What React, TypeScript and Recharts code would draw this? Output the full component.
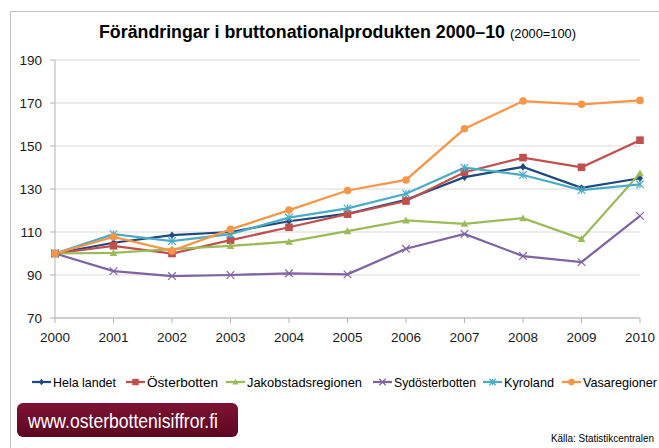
import React from "react";
import { LineChart, Line, XAxis, YAxis, CartesianGrid } from "recharts";

const years = ["2000", "2001", "2002", "2003", "2004", "2005", "2006", "2007", "2008", "2009", "2010"];
const helaLandet = [100, 105, 108.5, 110, 115, 118.5, 125, 135.5, 140.3, 130.5, 135];
const osterbotten = [100, 103.6, 100, 106.2, 112.2, 118.3, 124.4, 137.8, 144.6, 140.1, 152.7];
const jakobstad = [100, 100.3, 102, 103.5, 105.5, 110.4, 115.4, 113.8, 116.4, 106.8, 137.3];
const sydosterbotten = [100, 91.8, 89.5, 90, 90.8, 90.3, 102.2, 109.1, 98.8, 96, 117.5];
const kyroland = [100, 109, 105.8, 109, 116.7, 121, 127.8, 139.9, 136.5, 129.5, 132.2];
const vasaregioner = [100, 107.7, 101.2, 111.2, 120.2, 129.3, 134.2, 158, 170.9, 169.4, 171.2];
const yTicks = [70, 90, 110, 130, 150, 170, 190];

type Shape = "diamond" | "square" | "triangle" | "x" | "star" | "circle";

const series: { key: string; name: string; color: string; shape: Shape; values: number[] }[] = [
  { key: "hela", name: "Hela landet", color: "#1F497D", shape: "diamond", values: helaLandet },
  { key: "oster", name: "Österbotten", color: "#C0504D", shape: "square", values: osterbotten },
  { key: "jakob", name: "Jakobstadsregionen", color: "#9BBB59", shape: "triangle", values: jakobstad },
  { key: "syd", name: "Sydösterbotten", color: "#8064A2", shape: "x", values: sydosterbotten },
  { key: "kyro", name: "Kyroland", color: "#4BACC6", shape: "star", values: kyroland },
  { key: "vasa", name: "Vasaregioner", color: "#F79646", shape: "circle", values: vasaregioner },
];

const rows = years.map((year, i) => {
  const row: Record<string, string | number> = { year };
  series.forEach((s) => {
    row[s.key] = s.values[i];
  });
  return row;
});

function Marker({ cx, cy, shape, color, size = 1 }: { cx: number; cy: number; shape: Shape; color: string; size?: number }) {
  const r = 3.8 * size;
  switch (shape) {
    case "diamond":
      return <polygon points={`${cx},${cy - r} ${cx + r * 0.8},${cy} ${cx},${cy + r} ${cx - r * 0.8},${cy}`} fill={color} />;
    case "square":
      return <rect x={cx - r} y={cy - r} width={r * 2} height={r * 2} fill={color} />;
    case "triangle":
      return <polygon points={`${cx},${cy - r} ${cx + r},${cy + r * 0.8} ${cx - r},${cy + r * 0.8}`} fill={color} />;
    case "x":
      return (
        <g stroke={color} strokeWidth={1.2}>
          <line x1={cx - r} y1={cy - r} x2={cx + r} y2={cy + r} />
          <line x1={cx - r} y1={cy + r} x2={cx + r} y2={cy - r} />
        </g>
      );
    case "star":
      return (
        <g stroke={color} strokeWidth={1.2}>
          <line x1={cx - r} y1={cy - r} x2={cx + r} y2={cy + r} />
          <line x1={cx - r} y1={cy + r} x2={cx + r} y2={cy - r} />
          <line x1={cx} y1={cy - r} x2={cx} y2={cy + r} />
        </g>
      );
    default:
      return <circle cx={cx} cy={cy} r={r} fill={color} />;
  }
}

// legend layout measured on the reference: icon start x and text width per item
const legendX = [32, 126, 226, 373, 483, 562];
const legendText = [63, 71, 115, 82, 50, 74];

function Legend() {
  const y = 382;
  return (
    <g>
      {series.map((s, i) => {
        const x0 = legendX[i];
        return (
          <g key={s.key}>
            <line x1={x0} y1={y} x2={x0 + 19} y2={y} stroke={s.color} strokeWidth={2.25} />
            <Marker cx={x0 + 9.5} cy={y} shape={s.shape} color={s.color} size={0.85} />
            <text
              x={x0 + 21}
              y={y + 4.5}
              fontSize={13}
              fontFamily="Liberation Sans, Arial, sans-serif"
              fill="#000"
              textLength={legendText[i]}
              lengthAdjust="spacingAndGlyphs"
            >
              {s.name}
            </text>
          </g>
        );
      })}
    </g>
  );
}

export default function App() {
  return (
    <div style={{ position: "absolute", left: 0, top: 0, width: 659, height: 448, background: "#fff", overflow: "hidden" }}>
      <svg width={659} height={448} style={{ position: "absolute", left: 0, top: 0 }}>
        <defs>
          <linearGradient id="logoGrad" x1="0" y1="0" x2="0" y2="1">
            <stop offset="0%" stopColor="#7E1334" />
            <stop offset="100%" stopColor="#5C0620" />
          </linearGradient>
        </defs>
        <line x1={10.5} y1={11.5} x2={659} y2={11.5} stroke="#BFBFBF" />
        <line x1={10.5} y1={11.5} x2={10.5} y2={448} stroke="#BFBFBF" />
        <text x={99} y={38} fontSize={18} fontWeight="bold" fontFamily="Liberation Sans, Arial, sans-serif" fill="#000" textLength={406} lengthAdjust="spacingAndGlyphs">
          Förändringar i bruttonationalprodukten 2000–10
        </text>
        <text x={510} y={38} fontSize={12} fontFamily="Liberation Sans, Arial, sans-serif" fill="#000" textLength={66} lengthAdjust="spacingAndGlyphs">
          (2000=100)
        </text>
        <Legend />
        <rect x={17} y={403} width={221} height={34} rx={6} fill="url(#logoGrad)" />
        <text x={28} y={428} fontSize={21} fontFamily="Liberation Sans, Arial, sans-serif" fill="#fff" textLength={190} lengthAdjust="spacingAndGlyphs">
          www.osterbottenisiffror.fi
        </text>
        <text x={551} y={442} fontSize={10.5} fontFamily="Liberation Sans, Arial, sans-serif" fill="#000" textLength={103} lengthAdjust="spacingAndGlyphs">
          Källa: Statistikcentralen
        </text>
      </svg>
      <div style={{ position: "absolute", left: 0, top: 0 }}>
        <LineChart width={659} height={448} data={rows} margin={{ top: 60, right: 19, bottom: 100, left: 10 }}>
          <CartesianGrid vertical={false} stroke="#D9D9D9" strokeWidth={1.2} />
          <XAxis
            dataKey="year"
            height={30}
            interval={0}
            tickSize={5}
            tickMargin={9}
            stroke="#B3B3B3"
            tick={{ fontSize: 13.5, fill: "#1a1a1a", fontFamily: "Liberation Sans, Arial, sans-serif" }}
          />
          <YAxis
            width={45}
            domain={[70, 190]}
            ticks={yTicks}
            interval={0}
            tickSize={5}
            tickMargin={8}
            stroke="#B3B3B3"
            tick={{ fontSize: 13.5, fill: "#1a1a1a", fontFamily: "Liberation Sans, Arial, sans-serif" }}
          />
          {series.map((s) => (
            <Line
              key={s.key}
              dataKey={s.key}
              name={s.name}
              stroke={s.color}
              strokeWidth={2.25}
              isAnimationActive={false}
              dot={(p: any) => <Marker key={`${s.key}-${p.index}`} cx={p.cx} cy={p.cy} shape={s.shape} color={s.color} />}
              activeDot={false}
            />
          ))}
        </LineChart>
      </div>
    </div>
  );
}
